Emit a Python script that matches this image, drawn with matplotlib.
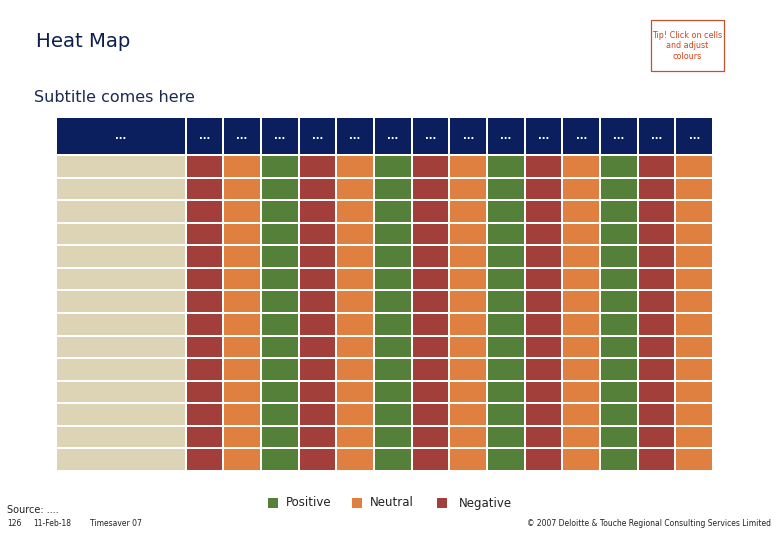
import matplotlib
matplotlib.use("Agg")
import matplotlib.pyplot as plt
import numpy as np
from matplotlib.colors import ListedColormap
from matplotlib.patches import Rectangle

# ---- data ----
column_labels = ["..."] * 15          # first = row-label column, then 14 metric columns
n_rows = 14
# status per metric column: 1 = Positive, 0 = Neutral, -1 = Negative
column_status = [-1, 0, 1, -1, 0, 1, -1, 0, 1, -1, 0, 1, -1, 0]
status_matrix = [[s for s in column_status] for _ in range(n_rows)]
legend_labels = ["Positive", "Neutral", "Negative"]
legend_values = [1, 0, -1]

# ---- styles ----
NAVY = "#0B1F5E"
BEIGE = "#DDD4B6"
STATUS_COLORS = {1: "#54803A", 0: "#DF8040", -1: "#A23F3B"}

fig = plt.figure(figsize=(7.8, 5.4), dpi=100)
W, H = 780, 540

# grid axes
left, right, top, bottom = 56, 713, 117, 471
ax = fig.add_axes([left / W, 1 - bottom / H, (right - left) / W, (bottom - top) / H])

first_w = 3.44
header_h = 1.68
ncols = len(column_status)
x_edges = np.concatenate([[0, first_w], first_w + np.arange(1, ncols + 1)])
y_edges = np.concatenate([[0, header_h], header_h + np.arange(1, n_rows + 1)])

# codes: 0 navy, 1 beige, 2 positive, 3 neutral, 4 negative
code_of = {1: 2, 0: 3, -1: 4}
grid = np.zeros((n_rows + 1, ncols + 1), dtype=int)
grid[0, :] = 0
for r in range(n_rows):
    grid[r + 1, 0] = 1
    for c in range(ncols):
        grid[r + 1, c + 1] = code_of[status_matrix[r][c]]

cmap = ListedColormap([NAVY, BEIGE, STATUS_COLORS[1], STATUS_COLORS[0], STATUS_COLORS[-1]])
ax.pcolormesh(x_edges, y_edges, grid, cmap=cmap, vmin=-0.5, vmax=4.5,
              edgecolors="white", linewidth=1.2)
ax.set_xlim(x_edges[0], x_edges[-1])
ax.set_ylim(y_edges[-1], y_edges[0])
ax.axis("off")

for i, lab in enumerate(column_labels):
    xc = (x_edges[i] + x_edges[i + 1]) / 2
    ax.text(xc, header_h / 2, lab, color="white", ha="center", va="center",
            fontsize=7, fontweight="bold")

# titles
fig.text(36 / W, 1 - 42 / H, "Heat Map", fontsize=14.2, color="#0D1F4F",
         ha="left", va="center")
fig.text(34 / W, 1 - 97 / H, "Subtitle comes here", fontsize=11.5, color="#1A2A50",
         ha="left", va="center")

# tip box
fig.patches.append(Rectangle((651 / W, 1 - 71 / H), 73 / W, 51 / H,
                             transform=fig.transFigure, facecolor="white",
                             edgecolor="#C5502C", linewidth=0.9))
fig.text(687.5 / W, 1 - 46 / H, "Tip! Click on cells\nand adjust\ncolours",
         fontsize=5.8, color="#D0441A", ha="center", va="center", linespacing=1.2)

# legend
leg_x = [268, 352, 437]
text_x = [286, 370, 459]
for lx, tx, lab, v in zip(leg_x, text_x, legend_labels, legend_values):
    fig.patches.append(Rectangle((lx / W, 1 - 508 / H), 10 / W, 10 / H,
                                 transform=fig.transFigure,
                                 facecolor=STATUS_COLORS[v], edgecolor="none"))
    fig.text(tx / W, 1 - 503 / H, lab, fontsize=8.5, color="#222222",
             ha="left", va="center")

# footer
fig.text(7 / W, 1 - 510 / H, "Source: ....", fontsize=7, color="#222222",
         ha="left", va="center")
fig.text(7 / W, 1 - 524 / H, "126", fontsize=5.5, color="#222222", ha="left", va="center")
fig.text(33 / W, 1 - 523 / H, "11-Feb-18", fontsize=5.5, color="#222222", ha="left", va="center")
fig.text(90 / W, 1 - 524 / H, "Timesaver 07", fontsize=5.5, color="#222222", ha="left", va="center")
fig.text(771 / W, 1 - 523 / H, "\u00a9 2007 Deloitte & Touche Regional Consulting Services Limited",
         fontsize=5.5, color="#222222", ha="right", va="center",
         family="Liberation Sans Narrow")

fig.savefig("out.png", dpi=100)
